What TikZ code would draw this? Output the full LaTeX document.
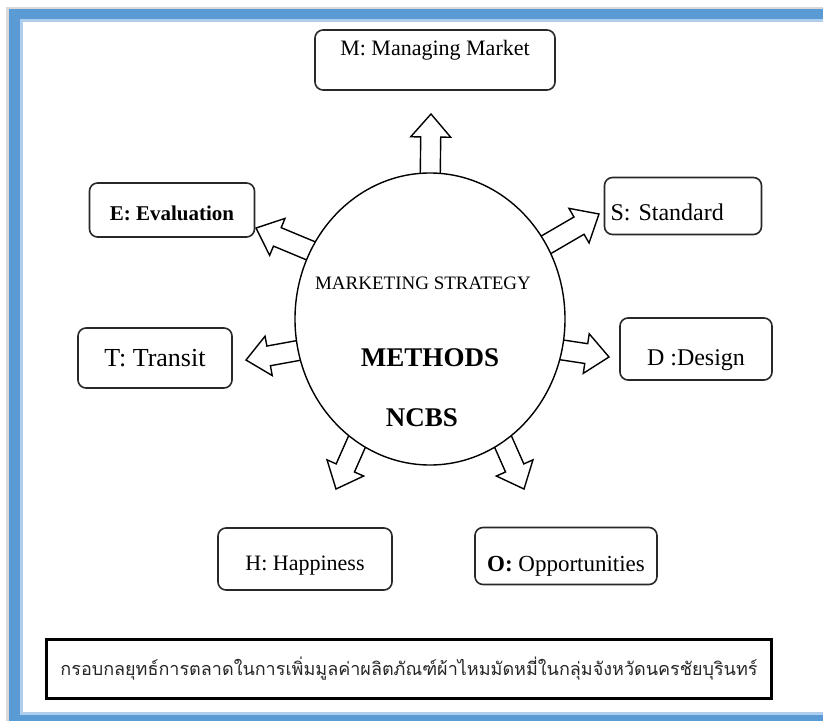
\documentclass[tikz,border=0pt]{standalone}
\usepackage{fontspec}
\setmainfont{Liberation Serif}
\newfontfamily\thaifont[Script=Thai]{Loma}
\usetikzlibrary{calc}
\usetikzlibrary{shapes.geometric}

\definecolor{framebl}{RGB}{91,155,213}
\definecolor{framelt}{RGB}{175,205,236}
\definecolor{boxline}{RGB}{40,40,40}

\tikzset{
  box/.style={draw=boxline, line width=1.6pt, rounded corners=8pt, fill=white,
    inner sep=3pt, font=\fontsize{22}{24}\selectfont},
  arrowline/.style={draw=black, line width=1.4pt, fill=white, line join=miter},
  coreshape/.style={ellipse, minimum width=270pt, minimum height=292pt, inner sep=0pt},
}

% hollow block arrow from #1 to #2
\newcommand\hollowarrow[2]{%
  \draw[arrowline] let \p1=($(#2)-(#1)$), \n1={atan2(\y1,\x1)}, \n2={veclen(\x1,\y1)-23} in
    ($(#1)+(\n1+90:10pt)$) -- ++(\n1:\n2) -- ++(\n1+90:10pt) -- (#2)
    -- ($(#1)+(\n1:\n2)+(\n1-90:20pt)$) -- ++(\n1+90:10pt)
    -- ($(#1)+(\n1-90:10pt)$) -- cycle;
}

\begin{document}
\begin{tikzpicture}[x=1pt,y=-1pt]
\useasboundingbox (0,0) rectangle (823,721);
\begin{scope}
\clip (0,0) rectangle (823,721);
\fill[gray!30] (6,7) rectangle (850,721);
\fill[framebl] (9,9) rectangle (850,721);
\fill[framelt] (20,19) rectangle (850,715);
\fill[white] (23,22) rectangle (850,712);
\end{scope}

\node[coreshape] (core) at (430,319) {};

\coordinate (tipM) at (431,114);
\coordinate (tipE) at (256,228);
\coordinate (tipS) at (599,214);
\coordinate (tipT) at (246,360);
\coordinate (tipD) at (609,357);
\coordinate (tipH) at (336,489);
\coordinate (tipO) at (524,489);

\foreach \ang/\tip in {90/tipM,149/tipE,33/tipS,194/tipT,346/tipD,238/tipH,302/tipO}{
  \coordinate (base) at ($(core.center)!0.85!(core.\ang)$);
  \hollowarrow{base}{\tip}
}

\node[coreshape, draw=black, line width=1.4pt, fill=white] (coreline) at (core) {};
\node[font=\fontsize{19}{20}\selectfont] (strat) at (423,283) {MARKETING STRATEGY};
\node[font=\bfseries\fontsize{27}{28}\selectfont] (methods) at (430,358) {METHODS};
\node[font=\bfseries\fontsize{27}{28}\selectfont] (ncbs) at (422,418) {NCBS};

\node[box, minimum width=240pt, minimum height=60pt, text height=15pt, text depth=24pt] (mm) at (435,60) {M: Managing Market};
\node[box, font=\bfseries\fontsize{21}{23}\selectfont, minimum width=165pt, minimum height=54pt,
  text height=24pt, text depth=4pt] (ee) at (172,210) {E: Evaluation};
\node[box, font=\fontsize{26}{28}\selectfont, minimum width=154pt, minimum height=60pt,
  text height=21pt, text depth=4pt] (tt) at (155,358) {T: Transit};
\node[box, font=\fontsize{24}{26}\selectfont, minimum width=157pt, minimum height=57pt,
  text width=145pt, align=left, text height=32pt, text depth=4pt] (ss) at (683,206) {S: Standard};
\node[box, font=\fontsize{24}{26}\selectfont, minimum width=152pt, minimum height=62pt,
  text height=36pt, text depth=4pt] (dd) at (696,349) {D :Design};
\node[box, minimum width=174pt, minimum height=62pt, text height=27pt, text depth=4pt] (hh) at (305,559) {H: Happiness};
\node[box, font=\fontsize{23}{25}\selectfont, minimum width=182pt, minimum height=57pt,
  text height=35pt, text depth=4pt] (oo) at (566,556) {\textbf{O:} Opportunities};

\node[draw=black, line width=2.2pt, fill=white, minimum width=725pt, minimum height=59pt,
  font=\thaifont\fontsize{18}{20}\selectfont, text=black!85] (caption) at (409,669)
  {กรอบกลยุทธ์การตลาดในการเพิ่มมูลค่าผลิตภัณฑ์ผ้าไหมมัดหมี่ในกลุ่มจังหวัดนครชัยบุรินทร์};
\end{tikzpicture}
\end{document}
